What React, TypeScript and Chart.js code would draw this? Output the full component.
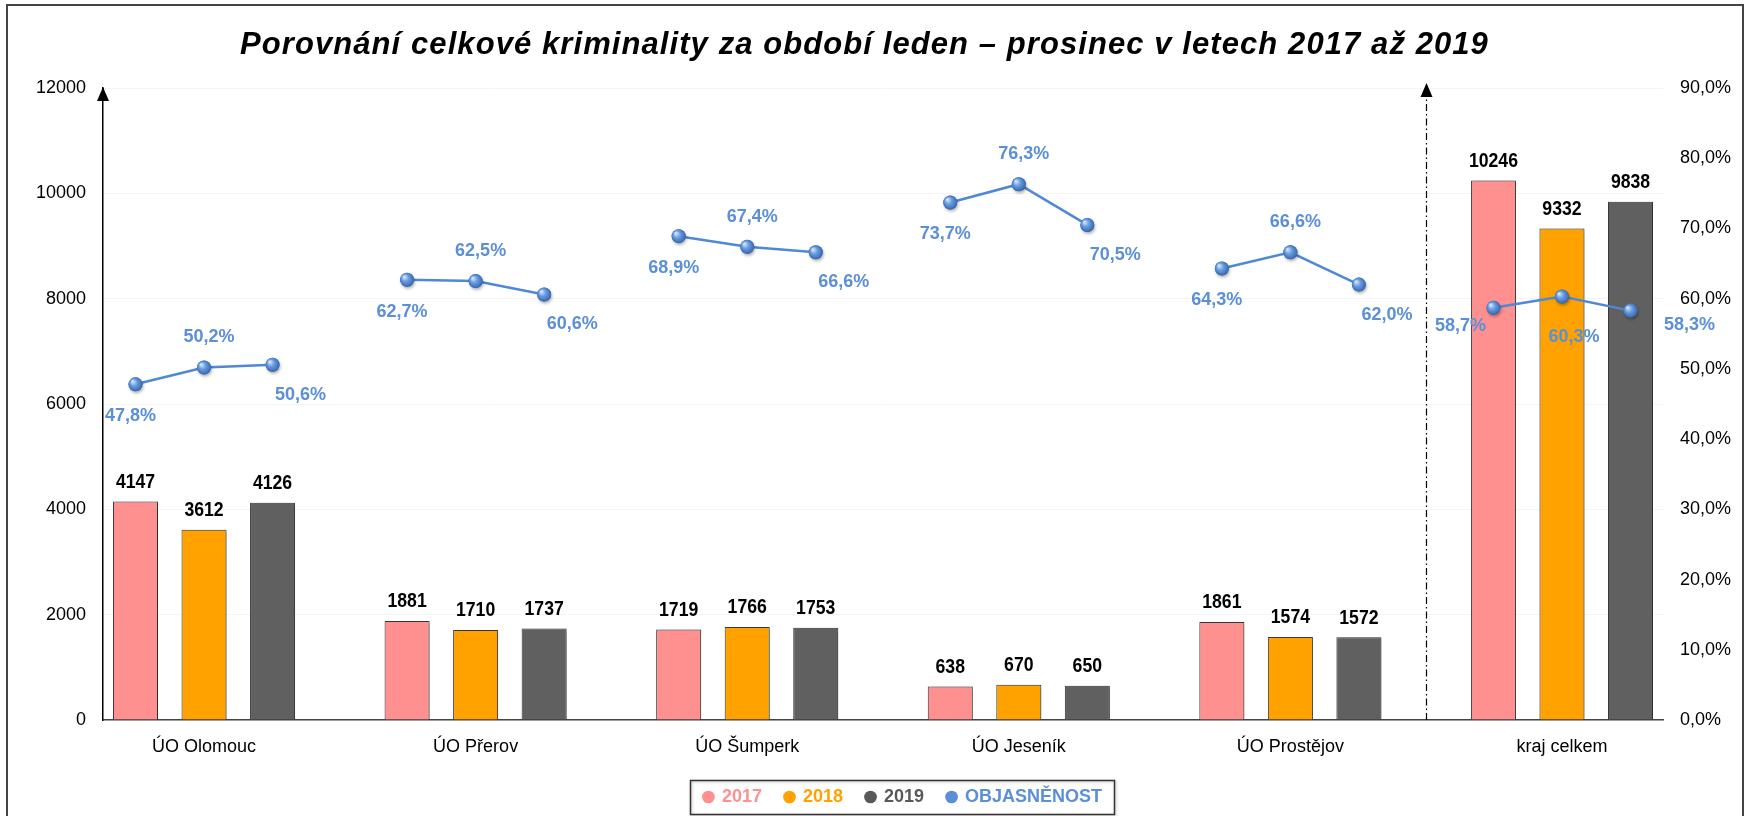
import React, { useEffect, useRef } from "react";
import { Chart, registerables } from "chart.js";

Chart.register(...registerables);

// ---------- data ----------
const TITLE = "Porovnání celkové kriminality za období leden – prosinec v letech 2017 až 2019";
const categories = ["ÚO Olomouc", "ÚO Přerov", "ÚO Šumperk", "ÚO Jeseník", "ÚO Prostějov", "kraj celkem"];
const yearLabels = ["2017", "2018", "2019"];
const crimes2017 = [4147, 1881, 1719, 638, 1861, 10246];
const crimes2018 = [3612, 1710, 1766, 670, 1574, 9332];
const crimes2019 = [4126, 1737, 1753, 650, 1572, 9838];
const rate2017 = [47.8, 62.7, 68.9, 73.7, 64.3, 58.7];
const rate2018 = [50.2, 62.5, 67.4, 76.3, 66.6, 60.3];
const rate2019 = [50.6, 60.6, 66.6, 70.5, 62.0, 58.3];
const rateLabel = "OBJASNĚNOST";
const leftTicks = [0, 2000, 4000, 6000, 8000, 10000, 12000];
const rightTicks = [0, 10, 20, 30, 40, 50, 60, 70, 80, 90];

// ---------- style ----------
const PINK = "#FF9090";
const ORANGE = "#FFA200";
const GRAY = "#606060";
const BLUE = "#4F88D6";
const BLUE_TEXT = "#5B8FD8";
const LEGEND_COLORS = [PINK, ORANGE, "#595959", BLUE_TEXT];
const CAT_PCT = 0.757;
const BAR_PCT = 0.657;
const SANS = "'Liberation Sans', Arial, sans-serif";
const RATE_OFFSETS = [[-5, 32], [5, -30], [28, 30]];
const LAST_RATE_OFFSETS = [[-33, 18], [12, 40], [59, 14]];
const LEGEND_SHIFT = 28; // moves the centred legend to the right

const crimeSeries = [crimes2017, crimes2018, crimes2019];
const rateSeries = [rate2017, rate2018, rate2019];

function fmtPct(v: number) {
  return v.toFixed(1).replace(".", ",") + "%";
}

function buildRatePoints() {
  const pts: { x: number; y: number | null; k: number }[] = [];
  categories.forEach((_, i) => {
    rateSeries.forEach((s, k) => {
      pts.push({ x: i + ((k - 1) * CAT_PCT) / 3, y: s[i], k });
    });
    pts.push({ x: i + 0.5, y: null, k: -1 });
  });
  return pts;
}

function narrowText(ctx: CanvasRenderingContext2D, text: string, x: number, y: number, sx: number) {
  ctx.save();
  ctx.translate(x, y);
  ctx.scale(sx, 1);
  ctx.fillText(text, 0, 0);
  ctx.restore();
}

const decorPlugin = {
  id: "decor",
  afterLayout(chart: any) {
    const lg = chart.legend;
    if (lg) {
      lg.left += LEGEND_SHIFT;
      lg.right += LEGEND_SHIFT;
    }
  },
  beforeDraw(chart: any) {
    const ctx = chart.ctx;
    ctx.save();
    ctx.fillStyle = "#fff";
    ctx.fillRect(0, 0, chart.width, chart.height);
    ctx.restore();
  },
  beforeDatasetDraw(chart: any, args: any) {
    const ds = chart.data.datasets[args.index];
    if (ds.type === "bar") {
      const ctx = chart.ctx;
      ctx.save();
      ctx.shadowColor = "rgba(0,0,0,0.28)";
      ctx.shadowBlur = 4;
      ctx.shadowOffsetX = 2;
      ctx.shadowOffsetY = 1;
    }
  },
  afterDatasetDraw(chart: any, args: any) {
    const ds = chart.data.datasets[args.index];
    if (ds.type === "bar") chart.ctx.restore();
  },
  afterDatasetsDraw(chart: any) {
    const ctx = chart.ctx;
    const area = chart.chartArea;
    const xs = chart.scales.x;
    ctx.save();
    // separator (dash-dot) before the region total
    const sx = Math.round(xs.getPixelForValue(categories.length - 1.5)) + 0.5;
    ctx.strokeStyle = "#000";
    ctx.lineWidth = 1.2;
    ctx.setLineDash([7, 3, 1.5, 3]);
    ctx.beginPath();
    ctx.moveTo(sx, area.bottom);
    ctx.lineTo(sx, area.top + 6);
    ctx.stroke();
    ctx.setLineDash([]);
    const arrow = (x: number, tip: number) => {
      ctx.fillStyle = "#000";
      ctx.beginPath();
      ctx.moveTo(x, tip);
      ctx.lineTo(x - 6, tip + 14);
      ctx.lineTo(x + 6, tip + 14);
      ctx.closePath();
      ctx.fill();
    };
    arrow(sx, area.top - 5);
    // left axis arrow
    const lx = area.left;
    ctx.strokeStyle = "#000";
    ctx.lineWidth = 1.5;
    ctx.beginPath();
    ctx.moveTo(lx, area.top);
    ctx.lineTo(lx, area.top + 10);
    ctx.stroke();
    arrow(lx, area.top - 1);

    // shaded spheres on the rate points
    chart.data.datasets.forEach((ds: any, di: number) => {
      if (ds.type !== "line") return;
      const meta = chart.getDatasetMeta(di);
      meta.data.forEach((el: any, i: number) => {
        const p = ds.data[i];
        if (p.y == null || !isFinite(el.x) || !isFinite(el.y)) return;
        ctx.save();
        ctx.shadowColor = "rgba(0,0,0,0.3)";
        ctx.shadowBlur = 3;
        ctx.shadowOffsetX = 1;
        ctx.shadowOffsetY = 2;
        const g = ctx.createRadialGradient(el.x - 3, el.y - 3, 0.5, el.x, el.y, 8);
        g.addColorStop(0, "#d6e6fb");
        g.addColorStop(0.4, "#6a9de2");
        g.addColorStop(1, "#2d5ea6");
        ctx.fillStyle = g;
        ctx.beginPath();
        ctx.arc(el.x, el.y, 7, 0, Math.PI * 2);
        ctx.fill();
        ctx.restore();
      });
    });

    // bar value labels
    ctx.font = "bold 21px " + SANS;
    ctx.fillStyle = "#000";
    ctx.textAlign = "center";
    ctx.textBaseline = "bottom";
    chart.data.datasets.forEach((ds: any, di: number) => {
      if (ds.type !== "bar") return;
      const meta = chart.getDatasetMeta(di);
      meta.data.forEach((el: any, i: number) => {
        narrowText(ctx, String(ds.data[i].y), el.x, el.y - 9, 0.84);
      });
    });
    // rate labels
    ctx.font = "bold 18px " + SANS;
    ctx.fillStyle = BLUE_TEXT;
    ctx.textBaseline = "middle";
    chart.data.datasets.forEach((ds: any, di: number) => {
      if (ds.type !== "line") return;
      const meta = chart.getDatasetMeta(di);
      meta.data.forEach((el: any, i: number) => {
        const p = ds.data[i];
        if (p.y == null) return;
        const last = Math.round(p.x) === categories.length - 1;
        const off = (last ? LAST_RATE_OFFSETS : RATE_OFFSETS)[p.k];
        ctx.fillText(fmtPct(p.y), el.x + off[0], el.y + off[1]);
      });
    });
    ctx.restore();
  },
  afterDraw(chart: any) {
    const ctx = chart.ctx;
    ctx.save();
    // title
    ctx.font = "italic bold 31px " + SANS;
    ctx.fillStyle = "#000";
    ctx.textAlign = "left";
    ctx.textBaseline = "middle";
    const target = 1248;
    const w = ctx.measureText(TITLE).width;
    const n = Array.from(TITLE).length;
    const spacing = Math.max(0, (target - w) / (n - 1));
    (ctx as any).letterSpacing = spacing.toFixed(2) + "px";
    ctx.fillText(TITLE, 240, 45);
    (ctx as any).letterSpacing = "0px";
    // legend frame (centred on the legend box, as wide as its items)
    const lg = chart.legend;
    const boxes = lg && lg.legendHitBoxes;
    if (boxes && boxes.length) {
      let l = Infinity, r = -Infinity, t = Infinity, b = -Infinity;
      boxes.forEach((h: any) => {
        l = Math.min(l, h.left);
        r = Math.max(r, h.left + h.width);
        t = Math.min(t, h.top);
        b = Math.max(b, h.top + h.height);
      });
      const cx = (lg.left + lg.right) / 2;
      const half = (r - l) / 2 + 14;
      const cy = (t + b) / 2;
      ctx.strokeStyle = "#333";
      ctx.lineWidth = 1.5;
      ctx.shadowColor = "rgba(0,0,0,0.25)";
      ctx.shadowBlur = 3;
      ctx.shadowOffsetX = 1;
      ctx.shadowOffsetY = 1;
      ctx.strokeRect(Math.round(cx - half) + 0.5, Math.round(cy - 17) + 0.5, Math.round(half * 2 - 2), 34);
    }
    ctx.shadowColor = "transparent";
    // outer frame
    ctx.strokeStyle = "#444";
    ctx.lineWidth = 2;
    ctx.strokeRect(7, 5, 1736, 900);
    ctx.restore();
  },
};

export default function App() {
  const ref = useRef<HTMLCanvasElement | null>(null);

  useEffect(() => {
    if (!ref.current) return;
    const barSets = crimeSeries.map((s, k) => ({
      type: "bar" as const,
      label: yearLabels[k],
      data: s.map((v, i) => ({ x: i, y: v })),
      backgroundColor: [PINK, ORANGE, GRAY][k],
      borderColor: "#3a3a3a",
      borderWidth: 1,
      yAxisID: "y",
      categoryPercentage: CAT_PCT,
      barPercentage: BAR_PCT,
      order: 1,
    }));
    const lineSet = {
      type: "line" as const,
      label: rateLabel,
      data: buildRatePoints(),
      borderColor: BLUE,
      backgroundColor: BLUE,
      borderWidth: 2.5,
      spanGaps: false,
      tension: 0,
      yAxisID: "yR",
      order: -1,
      pointRadius: 7,
      pointHoverRadius: 7,
      pointBorderWidth: 0,
      pointBackgroundColor: BLUE,
    };

    const chart = new Chart(ref.current, {
      data: { datasets: [...barSets, lineSet] as any },
      plugins: [decorPlugin],
      options: {
        responsive: false,
        animation: false,
        events: [],
        layout: { padding: { top: 88, left: 0, right: 0, bottom: 24 } },
        scales: {
          x: {
            type: "linear",
            min: -0.372,
            max: categories.length - 1 + 0.372,
            offset: false,
            afterBuildTicks: (s: any) => {
              s.ticks = categories.map((_, i) => ({ value: i }));
            },
            afterFit: (s: any) => {
              s.height = 45;
            },
            ticks: {
              autoSkip: false,
              maxRotation: 0,
              padding: 16,
              color: "#000",
              font: { family: SANS, size: 18 },
              callback: (v: any) => categories[Math.round(Number(v))] ?? "",
            },
            grid: { display: false, drawTicks: false },
            border: { display: true, color: "#444", width: 1.5 },
          },
          y: {
            type: "linear",
            position: "left",
            min: 0,
            max: 12000,
            afterBuildTicks: (s: any) => {
              s.ticks = leftTicks.map((v) => ({ value: v }));
            },
            afterFit: (s: any) => {
              s.width = 103;
            },
            ticks: {
              padding: 17,
              color: "#000",
              font: { family: SANS, size: 18 },
              callback: (v: any) => String(v),
            },
            grid: { color: "#f4f4f4", drawTicks: false, lineWidth: 1 },
            border: { display: true, color: "#000", width: 1.5 },
          },
          yR: {
            type: "linear",
            position: "right",
            min: 0,
            max: 90,
            afterBuildTicks: (s: any) => {
              s.ticks = rightTicks.map((v) => ({ value: v }));
            },
            afterFit: (s: any) => {
              s.width = 87;
            },
            ticks: {
              padding: 17,
              color: "#000",
              font: { family: SANS, size: 18 },
              callback: (v: any) => fmtPct(Number(v)),
            },
            grid: { display: false, drawTicks: false },
            border: { display: false },
          },
        },
        plugins: {
          title: { display: false },
          tooltip: { enabled: false },
          legend: {
            display: true,
            position: "bottom",
            labels: {
              usePointStyle: true,
              boxWidth: 9,
              boxHeight: 9,
              padding: 23,
              font: { family: SANS, size: 18, weight: "bold" },
              generateLabels: (ch: any) =>
                ch.data.datasets.map((ds: any, i: number) => ({
                  text: ds.label,
                  fillStyle: LEGEND_COLORS[i],
                  strokeStyle: LEGEND_COLORS[i],
                  fontColor: LEGEND_COLORS[i],
                  lineWidth: 0,
                  pointStyle: "circle",
                  hidden: false,
                  datasetIndex: i,
                })),
            },
          },
        },
      } as any,
    });
    return () => chart.destroy();
  }, []);

  return (
    <div style={{ position: "fixed", left: 0, top: 0, width: 1750, height: 816, overflow: "hidden", background: "#fff" }}>
      <canvas ref={ref} width={1750} height={840} style={{ display: "block" }} />
    </div>
  );
}
